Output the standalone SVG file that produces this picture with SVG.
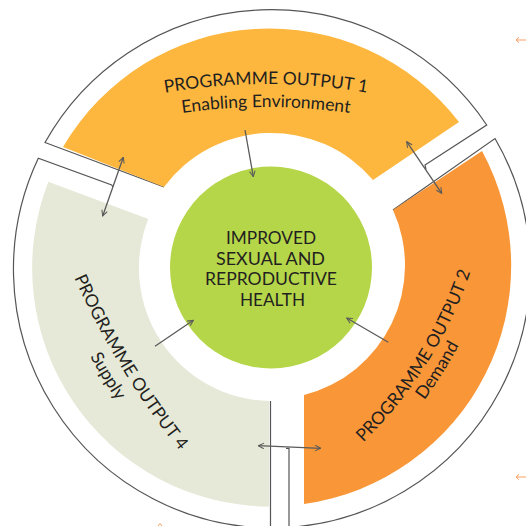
<svg xmlns="http://www.w3.org/2000/svg" width="526" height="526" viewBox="0 0 526 526">
<style>
.frame{fill:none;stroke:#555;stroke-width:1.2;stroke-linejoin:miter}
.t{font-family:Lato,"Liberation Sans",sans-serif;fill:#231F20;font-size:17.5px}
.ctr{font-family:Lato,"Liberation Sans",sans-serif;fill:#231F20;font-size:18px;text-anchor:middle}
.con{fill:none;stroke:#5a5a5a;stroke-width:1.3}
.mark{fill:none;stroke:#F7A063;stroke-width:1}
</style>
<defs>
<marker id="ah" viewBox="0 0 10 10" refX="9" refY="5" markerWidth="7" markerHeight="7" markerUnits="userSpaceOnUse" orient="auto-start-reverse">
<path d="M1,1 L9,5 L1,9" fill="none" stroke="#5a5a5a" stroke-width="1.5"/>
</marker>
<path id="p1a" d="M140,97.6 A592,592 0 0 1 392,97.6"/>
<path id="p1b" d="M140,120.6 A592,592 0 0 1 392,120.6"/>
<path id="p4a" d="M51,219.1 A786.5,786.5 0 0 0 221.2,498.3"/>
<path id="p4b" d="M62.9,304.4 A808,808 0 0 0 150.8,448.6"/>
<path id="p2a" d="M337.5,465.6 A433.5,433.5 0 0 0 480.2,238.9"/>
<path id="p2b" d="M405.2,424.3 A452,452 0 0 0 472.3,317.8"/>
</defs>
<rect width="526" height="526" fill="#fff"/>

<g id="output1">
<path class="frame" d="M164,187 L45,142.5 A259,259 0 0 1 486.7,125 L425,165 L426,169.5"/>
<path d="M63,147 A239,239 0 0 1 459,122 L373,180 A133.5,133.5 0 0 0 164,187 Z" fill="#FDB73F"/>
<text class="t"><textPath href="#p1a" startOffset="50%" text-anchor="middle">PROGRAMME OUTPUT 1</textPath></text>
<text class="t"><textPath href="#p1b" startOffset="50%" text-anchor="middle">Enabling Environment</textPath></text>
</g>

<g id="output2">
<path class="frame" d="M393,210 L495,138.5 A259,259 0 0 1 289,527.4 L289,448.3 L286,448.3"/>
<path d="M393,210 L482,151 A240.5,240.5 0 0 1 304,504 L304,395 A133.7,133.7 0 0 0 393,210 Z" fill="#F99738"/>
<text class="t"><textPath href="#p2a" startOffset="50%" text-anchor="middle">PROGRAMME OUTPUT 2</textPath></text>
<text class="t"><textPath href="#p2b" startOffset="50%" text-anchor="middle">Demand</textPath></text>
</g>

<g id="output4">
<path class="frame" d="M270.5,401 L270.5,528 A259,259 0 0 1 38.3,158.3 L111.7,185 L113,187"/>
<path d="M269,506.5 A238.5,238.5 0 0 1 48.3,181.7 L148.3,219 A133,133 0 0 0 269,401 Z" fill="#E6E9D8"/>
<text class="t"><textPath href="#p4a" startOffset="50%" text-anchor="middle">PROGRAMME OUTPUT 4</textPath></text>
<text class="t"><textPath href="#p4b" startOffset="50%" text-anchor="middle">Supply</textPath></text>
</g>

<g id="outcome">
<circle cx="271" cy="267.5" r="101" fill="#B6D64A"/>
<text class="ctr" x="271" y="244.3" textLength="90" lengthAdjust="spacingAndGlyphs">IMPROVED</text>
<text class="ctr" x="270.5" y="264.6" textLength="109" lengthAdjust="spacingAndGlyphs">SEXUAL AND</text>
<text class="ctr" x="271" y="285.2" textLength="132" lengthAdjust="spacingAndGlyphs">REPRODUCTIVE</text>
<text class="ctr" x="272.5" y="306" textLength="65" lengthAdjust="spacingAndGlyphs">HEALTH</text>
</g>

<g id="connectors">
<path class="con" d="M245,130 L253.3,176.7" marker-end="url(#ah)"/>
<path class="con" d="M123.3,157.3 L102.7,216" marker-start="url(#ah)" marker-end="url(#ah)"/>
<path class="con" d="M406.7,141.7 L441.7,193.3" marker-start="url(#ah)" marker-end="url(#ah)"/>
<path class="con" d="M155,346.3 L193.3,320.3" marker-end="url(#ah)"/>
<path class="con" d="M388.3,342.3 L346.7,318" marker-end="url(#ah)"/>
<path class="con" d="M258.3,445.7 L320.7,448.3" marker-start="url(#ah)" marker-end="url(#ah)"/>
</g>

<g id="edge-marks">
<path class="mark" d="M516,40 L526,40 M519,37.3 L516,40 L519,42.7"/>
<path class="mark" d="M516,477 L526,477 M519,474.3 L516,477 L519,479.7"/>
<path class="mark" d="M158,526 L160,523.5 L162,526"/>
</g>
</svg>
